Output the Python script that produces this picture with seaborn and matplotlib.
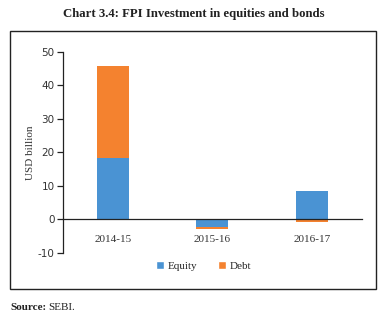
import matplotlib
matplotlib.use("Agg")
import matplotlib.pyplot as plt
import seaborn as sns
import pandas as pd
import numpy as np
from matplotlib.patches import Rectangle, Patch

years = ["2014-15", "2015-16", "2016-17"]
equity = [18.3, -2.4, 8.4]
debt = [27.4, -0.6, -0.8]
yticks = [-10, 0, 10, 20, 30, 40, 50]

blue = "#4A93D3"
orange = "#F4822F"

sns.set_theme(style="white")
plt.rcParams["font.family"] = ["DejaVu Sans"]

fig = plt.figure(figsize=(3.88, 3.23), dpi=100)
ax = fig.add_axes([0.162, 0.217, 0.771, 0.622])

df = pd.DataFrame({"year": years, "equity": equity, "debt": debt})
sns.barplot(data=df, x="year", y="equity", color=blue, width=0.32,
            saturation=1, ax=ax, edgecolor="none")

bottoms = [e if (e >= 0) == (d >= 0) else 0 for e, d in zip(equity, debt)]
ax.bar(np.arange(len(years)), debt, bottom=bottoms, width=0.32,
       color=orange, edgecolor="none")

ax.set_ylim(-10, 50)
ax.set_xlim(-0.5, 2.5)
ax.set_yticks(yticks)
ax.set_yticklabels([str(t) for t in yticks], fontsize=7.5, color="#333333")
ax.set_ylabel("USD billion", fontsize=8, family="Liberation Serif", color="#333333", labelpad=2)
ax.set_xlabel("")

ax.spines["top"].set_visible(False)
ax.spines["right"].set_visible(False)
ax.spines["bottom"].set_position(("data", 0))
for s in ["left", "bottom"]:
    ax.spines[s].set_color("#222222")
    ax.spines[s].set_linewidth(0.9)

ax.set_xticks(range(len(years)))
ax.set_xticklabels([])
ax.tick_params(axis="x", which="major", length=0)
ax.set_xticks([0.5, 1.5, 2.5], minor=True)
ax.tick_params(axis="x", which="minor", length=4, direction="out", color="#222222", width=0.9)
ax.tick_params(axis="y", length=4, direction="out", color="#222222", width=0.9, pad=2, left=True)

for i, y in enumerate(years):
    ax.text(i, -4.6, y, ha="center", va="top", fontsize=8,
            family="Liberation Serif", color="#333333")

handles = [Patch(facecolor=blue, label="Equity"), Patch(facecolor=orange, label="Debt")]
fig.legend(handles=handles, loc="center", bbox_to_anchor=(0.525, 0.176), ncol=2,
           frameon=False, prop={"family": "Liberation Serif", "size": 8},
           handlelength=0.7, handleheight=0.7, columnspacing=1.8, handletextpad=0.4)

fig.patches.append(Rectangle((10 / 388, 1 - 289 / 323), 366 / 388, 258 / 323,
                             transform=fig.transFigure, fill=False,
                             edgecolor="#222222", linewidth=1.0))

fig.text(0.5, 1 - 14 / 323, "Chart 3.4: FPI Investment in equities and bonds",
         ha="center", va="center", fontsize=9.2, fontweight="bold",
         family="Liberation Serif", color="#222222")

fig.text(10 / 388, 1 - 308 / 323, "Source:", ha="left", va="center", fontsize=8,
         fontweight="bold", family="Liberation Serif", color="#222222")
fig.text(48 / 388, 1 - 308 / 323, "SEBI.", ha="left", va="center", fontsize=8,
         family="Liberation Serif", color="#222222")

fig.savefig("out.png", dpi=100)
